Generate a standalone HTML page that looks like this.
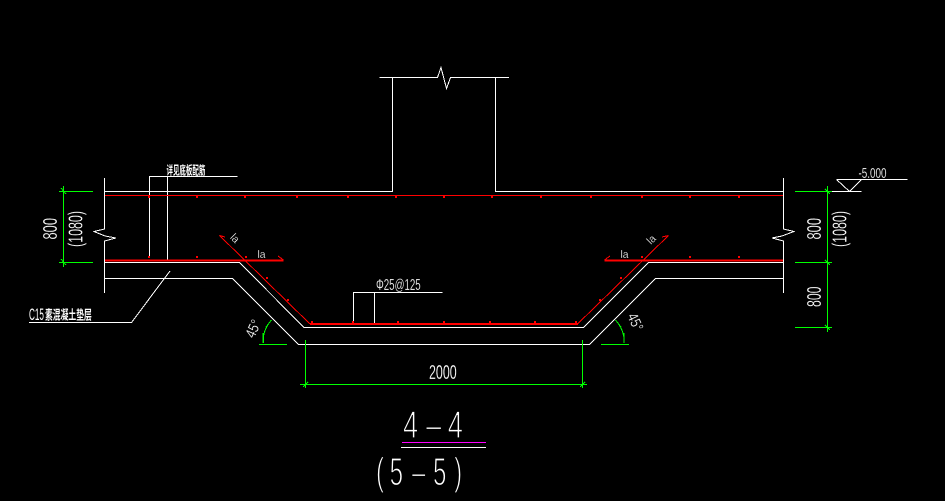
<!DOCTYPE html>
<html><head><meta charset="utf-8"><style>
html,body{margin:0;padding:0;background:#000;width:945px;height:501px;overflow:hidden}
svg{display:block}
text{fill:#fff;font-family:"Liberation Sans","Noto Sans CJK SC",sans-serif;stroke:#000;stroke-width:.2}
</style></head><body>
<svg width="945" height="501" viewBox="0 0 945 501" xmlns="http://www.w3.org/2000/svg">
<rect width="945" height="501" fill="#000"/>
<g fill="none" stroke="#fff" stroke-width="1" shape-rendering="crispEdges">
<!-- column -->
<path d="M379.5 77.5H437.5L441 67.5L446.5 88.5L450.5 77.5H509"/>
<path d="M392.5 77.5V191.5H104.5"/>
<path d="M495.5 77.5V191.5H783.5"/>
<!-- walls with breaks -->
<path d="M104.5 178V229L94 231.5L105 236L116 238L104.5 241V293"/>
<path d="M783.5 178V229L794 231.5L782 236L772 238L783.5 241V293"/>
<!-- slab -->
<path d="M104.5 262.5H239.5L304 327.5H583.5L648.5 262.5H783.5"/>
<path d="M104.5 278.5H232.5L298.5 344.5H589.5L655.5 278.5H783.5"/>
<!-- leaders -->
<path d="M149.5 256.5V176.5H237.5"/>
<path d="M167.5 176.5V260"/>
<path d="M29 322.5H131.5L170 271"/>
<path d="M353.5 322V292.5H442.5"/>
<path d="M374.5 292.5V324"/>
<!-- elevation -->
<path d="M836.5 179.5H907.5"/>
<path d="M836.5 179.5L849.5 191.5L861.5 179.5"/>
<path d="M796 191.5H861.5"/>
<!-- title underline -->
<path d="M401 447.5H486"/>
</g>
<path d="M402 442.5H486" stroke="#f0f" stroke-width="1" shape-rendering="crispEdges"/>
<!-- red rebar -->
<g fill="none" stroke="#f00" stroke-width="1" shape-rendering="crispEdges">
<path d="M105 195.5H783"/>
<path d="M219.5 235.5L310 324"/>
<path d="M668.5 235.5L577.5 324"/>
<path d="M219.5 235.5L225 237M278 256L283.5 260M604.5 260L610 256M668.5 235.5L662 237"/>
</g>
<g fill="none" stroke="#f00" stroke-width="2" shape-rendering="crispEdges">
<path d="M105 260.5H283.5"/>
<path d="M604.5 260.5H783"/>
<path d="M310 324H578"/>
</g>
<g fill="#f00" shape-rendering="crispEdges">
<rect x="148" y="196" width="2" height="2"/><rect x="196" y="196" width="2" height="2"/><rect x="244" y="196" width="2" height="2"/><rect x="296" y="196" width="2" height="2"/><rect x="347" y="196" width="2" height="2"/><rect x="395" y="196" width="2" height="2"/><rect x="443" y="196" width="2" height="2"/><rect x="491" y="196" width="2" height="2"/><rect x="540" y="196" width="2" height="2"/><rect x="590" y="196" width="2" height="2"/><rect x="641" y="196" width="2" height="2"/><rect x="689" y="196" width="2" height="2"/><rect x="738" y="196" width="2" height="2"/>
<rect x="148" y="256" width="2" height="2"/><rect x="196" y="256" width="2" height="2"/><rect x="245" y="256" width="2" height="2"/><rect x="641" y="256" width="2" height="2"/><rect x="689" y="256" width="2" height="2"/><rect x="738" y="256" width="2" height="2"/>
<rect x="311" y="321" width="2" height="2"/><rect x="352" y="321" width="2" height="2"/><rect x="397" y="321" width="2" height="2"/><rect x="443" y="321" width="2" height="2"/><rect x="489" y="321" width="2" height="2"/><rect x="534" y="321" width="2" height="2"/><rect x="575" y="321" width="2" height="2"/>
<rect x="266" y="277" width="2" height="2"/><rect x="287" y="299" width="2" height="2"/><rect x="620" y="277" width="2" height="2"/><rect x="599" y="299" width="2" height="2"/>
</g>
<!-- green dims -->
<g fill="none" stroke="#0f0" stroke-width="1" shape-rendering="crispEdges">
<path d="M63.5 186V267M59 191.5H93M59 262.5H93"/>
<path d="M61 188L66 194M61 259L66 265"/>
<path d="M827.5 186V332M795 191.5H832M795 262.5H832M795 327.5H832"/>
<path d="M825 189L830 194M825 260L830 265M825 325L830 330"/>
<path d="M305.5 340V388M582.5 340V388M300 384.5H587"/>
<path d="M303 387L308 382M580 387L585 382"/>
<path d="M259 344.5H287M601 344.5H629"/>
<path d="M271.5 320Q262 331 263.5 343M615.5 320Q625 331 624 343"/>
<path d="M270 322L266 327M263 333V343M617 322L621 327M624 333V343"/>
</g>
<!-- labels -->
<text transform="translate(166.5,174.5) scale(.54,1)" font-size="12" font-weight="bold" style="stroke:none">详见底板配筋</text>
<text transform="translate(29,320) scale(.48,1)" font-size="17" style="stroke:none">C15</text>
<text transform="translate(45,319.5) scale(.6,1)" font-size="13" font-weight="bold" style="stroke:none">素混凝土垫层</text>
<text transform="translate(57,239.5) rotate(-90)" font-size="20" textLength="21.5" lengthAdjust="spacingAndGlyphs">800</text>
<text transform="translate(82.5,247) rotate(-90)" font-size="20" textLength="36" lengthAdjust="spacingAndGlyphs">(1080)</text>
<text transform="translate(821,239.5) rotate(-90)" font-size="20" textLength="21.5" lengthAdjust="spacingAndGlyphs">800</text>
<text transform="translate(821,307) rotate(-90)" font-size="20" textLength="20.5" lengthAdjust="spacingAndGlyphs">800</text>
<text transform="translate(846.5,247) rotate(-90)" font-size="20" textLength="36" lengthAdjust="spacingAndGlyphs">(1080)</text>
<text x="429" y="379" font-size="20" textLength="27.7" lengthAdjust="spacingAndGlyphs">2000</text>
<text x="376" y="290" font-size="15.5" textLength="44.7" lengthAdjust="spacingAndGlyphs">Φ25@125</text>
<text x="858.5" y="178" font-size="15" textLength="28" lengthAdjust="spacingAndGlyphs">-5.000</text>
<text x="257.5" y="258" font-size="11" textLength="8" lengthAdjust="spacingAndGlyphs">la</text>
<text x="620.5" y="258" font-size="11" textLength="8" lengthAdjust="spacingAndGlyphs">la</text>
<text transform="translate(229.5,238) rotate(45)" font-size="11" textLength="8" lengthAdjust="spacingAndGlyphs">la</text>
<text transform="translate(651,245) rotate(-45)" font-size="11" textLength="8" lengthAdjust="spacingAndGlyphs">la</text>
<text transform="translate(254,339) rotate(-65)" font-size="15" textLength="18" lengthAdjust="spacingAndGlyphs">45°</text>
<text transform="translate(627,316) rotate(65)" font-size="15" textLength="18" lengthAdjust="spacingAndGlyphs">45°</text>
<text transform="translate(403,438) scale(.7,1)" font-size="39" x="0 33 64" style="stroke-width:1.2">4–4</text>
<text transform="translate(376,485) scale(.62,1)" font-size="39" x="0 22 58 92 126" style="stroke-width:1.2">(5–5)</text>
</svg>
</body></html>
